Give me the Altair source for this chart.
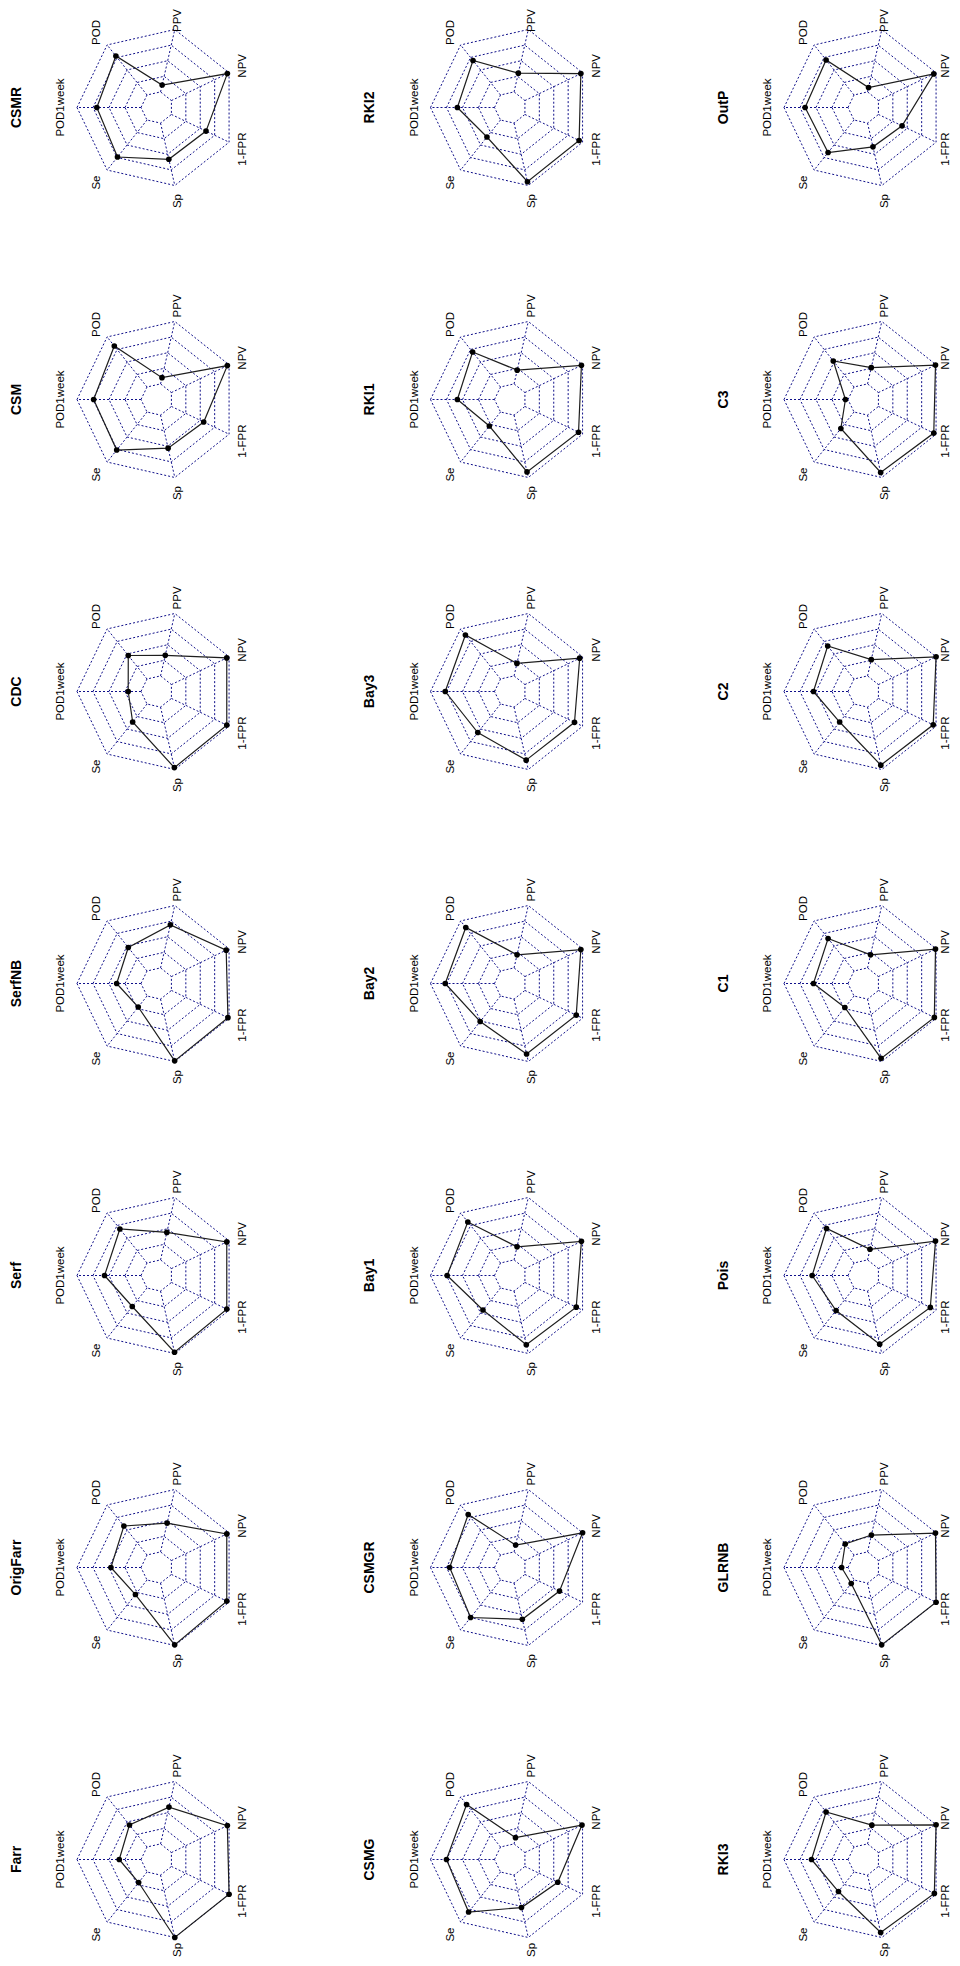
import math
import altair as alt
import pandas as pd

# ---------------- data ----------------
metrics = ["POD1week", "POD", "PPV", "NPV", "1-FPR", "Sp", "Se"]

row1_methods = ["Farr", "OrigFarr", "Serf", "SerfNB", "CDC", "CSM", "CSMR"]
row2_methods = ["CSMG", "CSMGR", "Bay1", "Bay2", "Bay3", "RKI1", "RKI2"]
row3_methods = ["RKI3", "GLRNB", "Pois", "C1", "C2", "C3", "OutP"]

# values in metric order: POD1week, POD, PPV, NPV, 1-FPR, Sp, Se
farr = [0.34, 0.44, 0.59, 0.97, 1.00, 1.00, 0.21]
origfarr = [0.47, 0.58, 0.46, 0.96, 0.96, 0.99, 0.29]
serf = [0.57, 0.68, 0.44, 0.96, 0.96, 0.98, 0.37]
serfnb = [0.38, 0.47, 0.69, 0.95, 0.98, 0.99, 0.22]
cdc = [0.20, 0.47, 0.33, 0.96, 0.96, 0.97, 0.36]
csm = [0.74, 0.82, 0.10, 0.97, 0.56, 0.53, 0.76]
csmr = [0.69, 0.78, 0.11, 0.97, 0.60, 0.58, 0.74]
csmg = [0.75, 0.85, 0.10, 0.99, 0.57, 0.52, 0.80]
csmgr = [0.70, 0.81, 0.11, 1.00, 0.60, 0.58, 0.75]
bay1 = [0.74, 0.82, 0.21, 0.98, 0.89, 0.86, 0.44]
bay2 = [0.77, 0.87, 0.21, 0.97, 0.89, 0.88, 0.51]
bay3 = [0.77, 0.88, 0.20, 0.95, 0.86, 0.85, 0.57]
rki1 = [0.58, 0.70, 0.22, 0.98, 0.93, 0.91, 0.28]
rki2 = [0.58, 0.69, 0.30, 0.97, 0.94, 0.94, 0.34]
rki3 = [0.57, 0.70, 0.30, 1.00, 0.97, 0.92, 0.39]
glrnb = [0.10, 0.22, 0.27, 0.99, 1.00, 0.99, 0.07]
pois = [0.56, 0.69, 0.17, 0.99, 0.90, 0.85, 0.45]
c1 = [0.54, 0.65, 0.21, 0.99, 0.97, 0.95, 0.23]
c2 = [0.54, 0.66, 0.26, 1.00, 0.95, 0.93, 0.36]
c3 = [0.04, 0.52, 0.26, 0.99, 0.96, 0.92, 0.33]
outp = [0.67, 0.70, 0.07, 0.96, 0.41, 0.38, 0.65]

values = {
    "Farr": farr, "OrigFarr": origfarr, "Serf": serf, "SerfNB": serfnb,
    "CDC": cdc, "CSM": csm, "CSMR": csmr,
    "CSMG": csmg, "CSMGR": csmgr, "Bay1": bay1, "Bay2": bay2, "Bay3": bay3,
    "RKI1": rki1, "RKI2": rki2,
    "RKI3": rki3, "GLRNB": glrnb, "Pois": pois, "C1": c1, "C2": c2,
    "C3": c3, "OutP": outp,
}

# ---------------- layout (figure is turned a quarter turn) ----------------
W, H = 944, 1950
TOP, LEFT = 8, 8
COL_X = [157, 510.5, 864]
ROW0_Y, ROW_STEP = 107.5, 292
RAD = 80.0
SEG = 4  # rings = SEG + 1 (fmsb default, inner gap ring)
N = len(metrics)
angles = [math.radians(180 - k * 360.0 / N) for k in range(N)]
LABEL_FS = 11.5
# approximate text lengths in em (rotated text runs vertically)
CHAR_W = {"POD1week": 5.06, "POD": 2.17, "PPV": 2.0, "NPV": 2.06, "1-FPR": 2.72, "Sp": 1.22, "Se": 1.22}

panels = []
for r, names in enumerate([row1_methods, row2_methods, row3_methods]):
    for c, name in enumerate(names):
        panels.append((name, COL_X[r], ROW0_Y + ROW_STEP * (6 - c)))

ring_rows, spoke_rows, poly_rows, pt_rows, lab_rows, title_rows = [], [], [], [], [], []
for name, cx, cy in panels:
    for i in range(1, SEG + 2):
        rr = RAD * i / (SEG + 1)
        for j in range(N + 1):
            a = angles[j % N]
            ring_rows.append({"key": f"{name}-{i}", "j": j,
                              "x": cx + rr * math.cos(a), "y": cy - rr * math.sin(a)})
    for k, a in enumerate(angles):
        r0 = RAD / (SEG + 1)
        spoke_rows.append({"x": cx + r0 * math.cos(a), "y": cy - r0 * math.sin(a),
                           "x2": cx + RAD * math.cos(a), "y2": cy - RAD * math.sin(a)})
        lx = cx + 1.2 * RAD * math.cos(a)
        ly = cy - 1.2 * RAD * math.sin(a)
        half = CHAR_W[metrics[k]] * LABEL_FS / 2 + 1
        ly = min(max(ly, TOP + half), TOP + H - half)
        lx = min(lx, LEFT + W - LABEL_FS * 0.5)
        lab_rows.append({"label": metrics[k], "x": lx, "y": ly})
    vals = values[name]
    for j in range(N + 1):
        k = j % N
        rr = RAD * (1 + SEG * vals[k]) / (SEG + 1)
        row = {"panel": name, "j": j, "metric": metrics[k], "value": vals[k],
               "x": cx + rr * math.cos(angles[k]), "y": cy - rr * math.sin(angles[k])}
        poly_rows.append(row)
        if j < N:
            pt_rows.append(row)
    title_rows.append({"title": name, "x": cx - 140.5, "y": cy})

xs = alt.X("x:Q", scale=alt.Scale(domain=[LEFT, LEFT + W], nice=False, zero=False), axis=None)
ys = alt.Y("y:Q", scale=alt.Scale(domain=[TOP, TOP + H], nice=False, zero=False, reverse=True), axis=None)

GRID = "#10108a"

rings = alt.Chart(pd.DataFrame(ring_rows)).mark_line(
    color=GRID, strokeWidth=1, strokeDash=[2, 2], opacity=1
).encode(x=xs, y=ys, detail="key:N", order="j:Q")

spokes = alt.Chart(pd.DataFrame(spoke_rows)).mark_rule(
    color=GRID, strokeWidth=1, strokeDash=[2, 2], opacity=1
).encode(x=xs, y=ys, x2="x2:Q", y2="y2:Q")

poly = alt.Chart(pd.DataFrame(poly_rows)).mark_line(
    color="#1e1e1e", strokeWidth=1.2
).encode(x=xs, y=ys, detail="panel:N", order="j:Q")

pts = alt.Chart(pd.DataFrame(pt_rows)).mark_circle(
    size=32, color="black", opacity=1
).encode(x=xs, y=ys)

labels = alt.Chart(pd.DataFrame(lab_rows)).mark_text(
    angle=270, fontSize=LABEL_FS, font="Liberation Sans", color="black",
    align="center", baseline="middle"
).encode(x=xs, y=ys, text="label:N")

titles = alt.Chart(pd.DataFrame(title_rows)).mark_text(
    angle=270, fontSize=14, fontWeight="bold", font="Liberation Sans", color="black",
    align="center", baseline="middle"
).encode(x=xs, y=ys, text="title:N")

chart = alt.layer(rings, spokes, poly, pts, labels, titles).properties(
    width=W, height=H, padding=0, autosize=alt.AutoSizeParams(type="none")
).configure_view(stroke=None)

chart.save("out.html", embed_options={"renderer": "svg", "actions": False})
